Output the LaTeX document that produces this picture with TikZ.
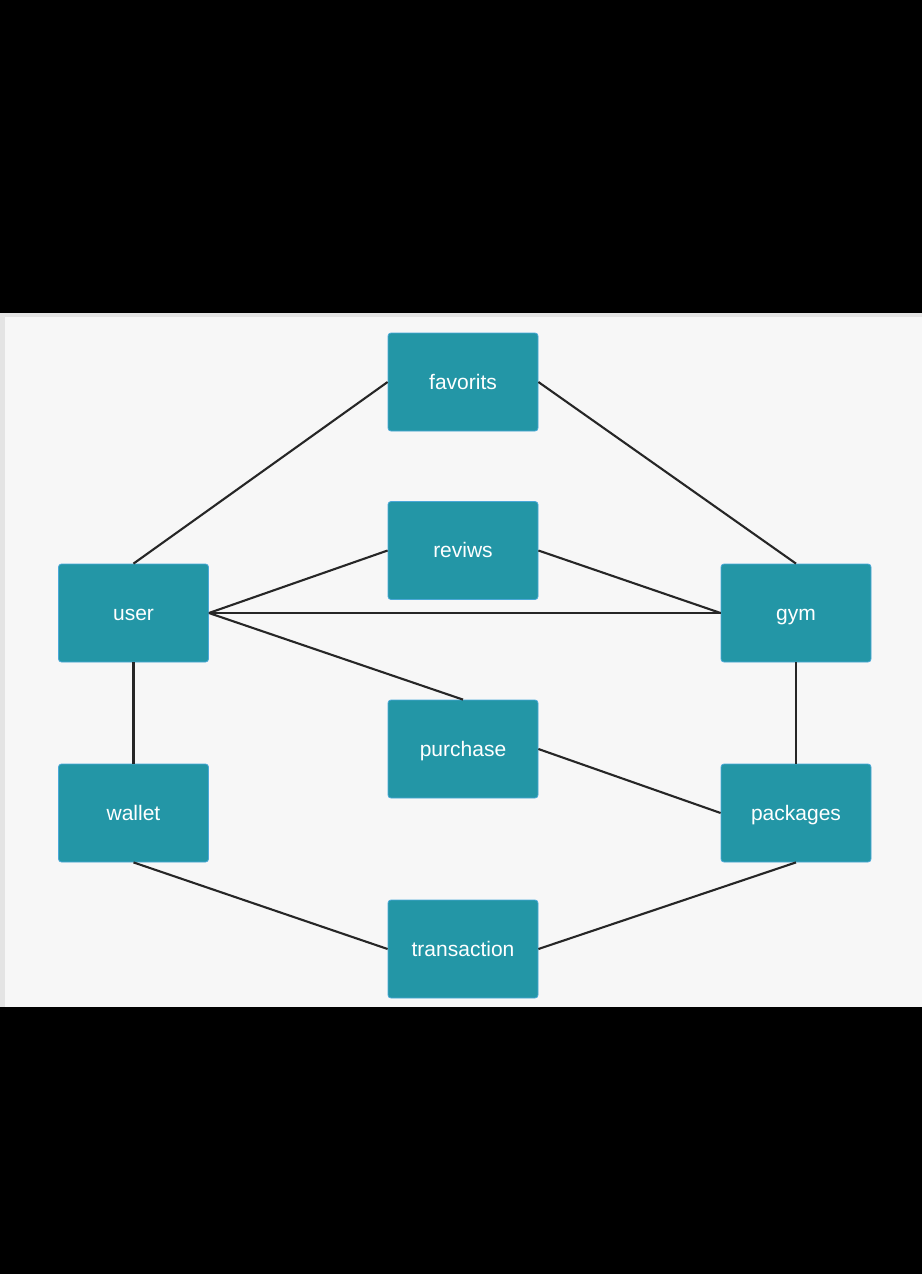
\documentclass[tikz,border=0pt]{standalone}
\usepackage{fontspec}
\setmainfont{Liberation Sans}
\definecolor{boxfill}{HTML}{2396A6}
\definecolor{boxedge}{HTML}{4AA8D8}
\definecolor{panel}{HTML}{F7F7F7}
\definecolor{panelrim}{HTML}{E4E4E4}
\definecolor{wire}{HTML}{262626}
\begin{document}
\begin{tikzpicture}[x=1pt,y=-1pt,
  entity/.style={draw=boxedge, line width=0.8pt, fill=boxfill, rounded corners=3pt,
    minimum width=150pt, minimum height=98pt, inner sep=0pt,
    text height=16pt, text depth=2pt,
    text=white, font=\fontsize{21}{25}\selectfont},
  link/.style={draw=wire, line width=2.1pt}]
  % page and panel
  \fill[black] (0,0) rectangle (922,1274);
  \fill[panelrim] (0,313) rectangle (922,1007);
  \fill[panel] (5,317) rectangle (922,1007);
  \useasboundingbox (0,0) rectangle (922,1274);

  % entities
  \node[entity] (fav) at (463,382) {favorits};
  \node[entity] (rev) at (463,550.5) {reviws};
  \node[entity] (user) at (133.5,613) {user};
  \node[entity] (gym) at (796,613) {gym};
  \node[entity] (pur) at (463,749) {purchase};
  \node[entity] (wal) at (133.5,813) {wallet};
  \node[entity] (pkg) at (796,813) {packages};
  \node[entity] (tra) at (463,949) {transaction};

  % relations
  \draw[link] (user.north) -- (fav.west);
  \draw[link] (fav.east) -- (gym.north);
  \draw[link] (user.east) -- (rev.west);
  \draw[link] (rev.east) -- (gym.west);
  \draw[link] (user.east) -- (gym.west);
  \draw[link] (user.east) -- (pur.north);
  \draw[link] (pur.east) -- (pkg.west);
  \draw[link] (user.south) -- (wal.north);
  \draw[link] (gym.south) -- (pkg.north);
  \draw[link] (wal.south) -- (tra.west);
  \draw[link] (tra.east) -- (pkg.south);
\end{tikzpicture}
\end{document}
